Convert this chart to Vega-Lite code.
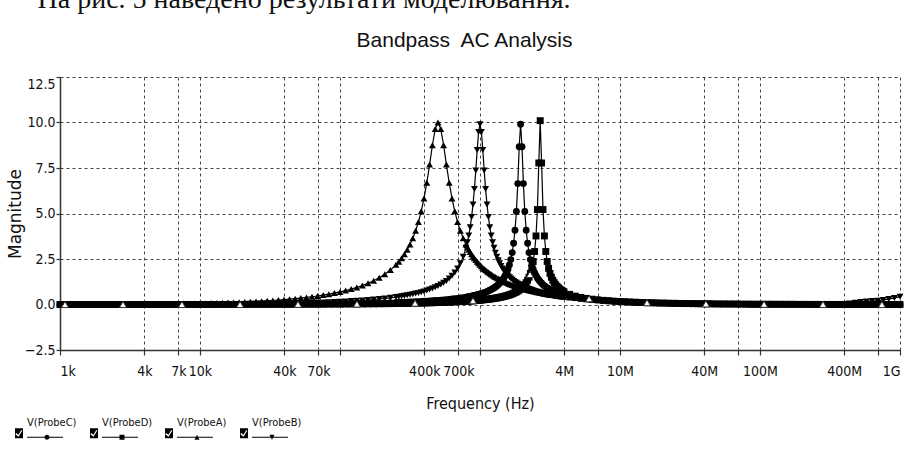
{
  "$schema": "https://vega.github.io/schema/vega-lite/v6.json",
  "background": "white",
  "autosize": {"type": "none"},
  "padding": {"left": 60, "top": 77, "right": 4, "bottom": 99},
  "width": 840,
  "height": 273,
  "datasets": {
    "curves": [
      {"f":1000,"A":0.0067,"B":0.0015,"C":0.0004,"D":0.0002},
      {"f":1096,"A":0.0073,"B":0.0017,"C":0.0005,"D":0.0002},
      {"f":1202,"A":0.0080,"B":0.0018,"C":0.0005,"D":0.0003},
      {"f":1318,"A":0.0088,"B":0.0020,"C":0.0006,"D":0.0003},
      {"f":1445,"A":0.0096,"B":0.0022,"C":0.0006,"D":0.0003},
      {"f":1585,"A":0.0105,"B":0.0024,"C":0.0007,"D":0.0003},
      {"f":1738,"A":0.0116,"B":0.0027,"C":0.0007,"D":0.0004},
      {"f":1905,"A":0.0127,"B":0.0029,"C":0.0008,"D":0.0004},
      {"f":2089,"A":0.0139,"B":0.0032,"C":0.0009,"D":0.0004},
      {"f":2291,"A":0.0152,"B":0.0035,"C":0.0010,"D":0.0005},
      {"f":2512,"A":0.0167,"B":0.0038,"C":0.0011,"D":0.0005},
      {"f":2754,"A":0.0183,"B":0.0042,"C":0.0012,"D":0.0006},
      {"f":3020,"A":0.0201,"B":0.0046,"C":0.0013,"D":0.0006},
      {"f":3311,"A":0.0220,"B":0.0050,"C":0.0014,"D":0.0007},
      {"f":3631,"A":0.0241,"B":0.0055,"C":0.0015,"D":0.0008},
      {"f":3981,"A":0.0265,"B":0.0061,"C":0.0017,"D":0.0008},
      {"f":4365,"A":0.0290,"B":0.0066,"C":0.0018,"D":0.0009},
      {"f":4786,"A":0.0318,"B":0.0073,"C":0.0020,"D":0.0010},
      {"f":5248,"A":0.0349,"B":0.0080,"C":0.0022,"D":0.0011},
      {"f":5754,"A":0.0383,"B":0.0087,"C":0.0024,"D":0.0012},
      {"f":6310,"A":0.0420,"B":0.0096,"C":0.0027,"D":0.0013},
      {"f":6918,"A":0.0460,"B":0.0105,"C":0.0029,"D":0.0014},
      {"f":7586,"A":0.0505,"B":0.0115,"C":0.0032,"D":0.0016},
      {"f":8318,"A":0.0553,"B":0.0126,"C":0.0035,"D":0.0017},
      {"f":9120,"A":0.0607,"B":0.0139,"C":0.0039,"D":0.0019},
      {"f":10000,"A":0.0665,"B":0.0152,"C":0.0042,"D":0.0021},
      {"f":10965,"A":0.0729,"B":0.0167,"C":0.0046,"D":0.0023},
      {"f":12023,"A":0.0800,"B":0.0183,"C":0.0051,"D":0.0025},
      {"f":13183,"A":0.0877,"B":0.0200,"C":0.0056,"D":0.0028},
      {"f":14454,"A":0.0961,"B":0.0220,"C":0.0061,"D":0.0030},
      {"f":15849,"A":0.1054,"B":0.0241,"C":0.0067,"D":0.0033},
      {"f":17378,"A":0.1156,"B":0.0264,"C":0.0074,"D":0.0036},
      {"f":19055,"A":0.1267,"B":0.0290,"C":0.0081,"D":0.0040},
      {"f":20893,"A":0.1390,"B":0.0318,"C":0.0088,"D":0.0044},
      {"f":22909,"A":0.1524,"B":0.0348,"C":0.0097,"D":0.0048},
      {"f":25119,"A":0.1671,"B":0.0382,"C":0.0106,"D":0.0052},
      {"f":27542,"A":0.1832,"B":0.0419,"C":0.0117,"D":0.0057},
      {"f":30200,"A":0.2009,"B":0.0459,"C":0.0128,"D":0.0063},
      {"f":33113,"A":0.2202,"B":0.0503,"C":0.0140,"D":0.0069},
      {"f":36308,"A":0.2415,"B":0.0552,"C":0.0154,"D":0.0076},
      {"f":39811,"A":0.2648,"B":0.0605,"C":0.0168,"D":0.0083},
      {"f":43652,"A":0.2903,"B":0.0663,"C":0.0185,"D":0.0091},
      {"f":47863,"A":0.3183,"B":0.0727,"C":0.0203,"D":0.0100},
      {"f":52481,"A":0.3527,"B":0.0797,"C":0.0222,"D":0.0109},
      {"f":57544,"A":0.3875,"B":0.0874,"C":0.0243,"D":0.0120},
      {"f":63096,"A":0.4261,"B":0.0959,"C":0.0267,"D":0.0132},
      {"f":69183,"A":0.4686,"B":0.1051,"C":0.0293,"D":0.0144},
      {"f":75858,"A":0.5157,"B":0.1153,"C":0.0321,"D":0.0158},
      {"f":83176,"A":0.5679,"B":0.1264,"C":0.0352,"D":0.0173},
      {"f":91201,"A":0.6262,"B":0.1387,"C":0.0386,"D":0.0190},
      {"f":100000,"A":0.6911,"B":0.1538,"C":0.0423,"D":0.0209},
      {"f":109650,"A":0.7639,"B":0.1690,"C":0.0465,"D":0.0229},
      {"f":120230,"A":0.8453,"B":0.1858,"C":0.0511,"D":0.0251},
      {"f":131830,"A":0.9372,"B":0.2043,"C":0.0561,"D":0.0275},
      {"f":144540,"A":1.043,"B":0.2248,"C":0.0615,"D":0.0301},
      {"f":158490,"A":1.163,"B":0.2476,"C":0.0675,"D":0.0331},
      {"f":173780,"A":1.303,"B":0.2729,"C":0.0741,"D":0.0362},
      {"f":190550,"A":1.465,"B":0.3011,"C":0.0814,"D":0.0397},
      {"f":208930,"A":1.658,"B":0.3327,"C":0.0894,"D":0.0436},
      {"f":229090,"A":1.891,"B":0.3682,"C":0.0983,"D":0.0481},
      {"f":251190,"A":2.178,"B":0.4079,"C":0.1081,"D":0.0528},
      {"f":263030,"A":2.347,"B":0.4301,"C":0.1134,"D":0.0554},
      {"f":275420,"A":2.538,"B":0.4538,"C":0.1189,"D":0.0580},
      {"f":288400,"A":2.756,"B":0.4790,"C":0.1248,"D":0.0608},
      {"f":302000,"A":3.007,"B":0.5055,"C":0.1309,"D":0.0638},
      {"f":316230,"A":3.298,"B":0.5344,"C":0.1374,"D":0.0668},
      {"f":331130,"A":3.639,"B":0.5655,"C":0.1443,"D":0.0701},
      {"f":346740,"A":4.047,"B":0.5994,"C":0.1515,"D":0.0735},
      {"f":363080,"A":4.531,"B":0.6356,"C":0.1591,"D":0.0771},
      {"f":380190,"A":5.117,"B":0.6752,"C":0.1672,"D":0.0809},
      {"f":398110,"A":5.830,"B":0.7185,"C":0.1758,"D":0.0848},
      {"f":416870,"A":6.689,"B":0.7663,"C":0.1848,"D":0.0890},
      {"f":436520,"A":7.689,"B":0.8189,"C":0.1944,"D":0.0935},
      {"f":457090,"A":8.749,"B":0.8763,"C":0.2046,"D":0.0981},
      {"f":478630,"A":9.639,"B":0.9411,"C":0.2155,"D":0.1030},
      {"f":501190,"A":10.0,"B":1.014,"C":0.2271,"D":0.1082},
      {"f":524810,"A":9.639,"B":1.097,"C":0.2394,"D":0.1137},
      {"f":549540,"A":8.749,"B":1.191,"C":0.2526,"D":0.1195},
      {"f":575440,"A":7.689,"B":1.298,"C":0.2667,"D":0.1257},
      {"f":602560,"A":6.689,"B":1.426,"C":0.2819,"D":0.1322},
      {"f":630960,"A":5.830,"B":1.576,"C":0.2982,"D":0.1392},
      {"f":660690,"A":5.117,"B":1.757,"C":0.3158,"D":0.1466},
      {"f":691830,"A":4.531,"B":1.982,"C":0.3349,"D":0.1544},
      {"f":724440,"A":4.047,"B":2.261,"C":0.3556,"D":0.1628},
      {"f":758580,"A":3.639,"B":2.624,"C":0.3782,"D":0.1718},
      {"f":794330,"A":3.298,"B":3.112,"C":0.4030,"D":0.1814},
      {"f":812830,"A":3.148,"B":3.423,"C":0.4162,"D":0.1865},
      {"f":831760,"A":3.007,"B":3.796,"C":0.4302,"D":0.1917},
      {"f":851140,"A":2.878,"B":4.249,"C":0.4449,"D":0.1972},
      {"f":870960,"A":2.756,"B":4.804,"C":0.4604,"D":0.2028},
      {"f":891250,"A":2.644,"B":5.492,"C":0.4766,"D":0.2087},
      {"f":912010,"A":2.538,"B":6.340,"C":0.4939,"D":0.2148},
      {"f":933250,"A":2.440,"B":7.364,"C":0.5122,"D":0.2212},
      {"f":954990,"A":2.347,"B":8.494,"C":0.5316,"D":0.2278},
      {"f":977240,"A":2.260,"B":9.484,"C":0.5522,"D":0.2347},
      {"f":1000000,"A":2.178,"B":9.9,"C":0.5732,"D":0.2419},
      {"f":1023300,"A":2.100,"B":9.484,"C":0.5967,"D":0.2494},
      {"f":1047100,"A":2.026,"B":8.494,"C":0.6215,"D":0.2572},
      {"f":1071500,"A":1.957,"B":7.364,"C":0.6483,"D":0.2654},
      {"f":1096500,"A":1.891,"B":6.340,"C":0.6767,"D":0.2741},
      {"f":1122000,"A":1.829,"B":5.492,"C":0.7076,"D":0.2831},
      {"f":1148200,"A":1.769,"B":4.804,"C":0.7416,"D":0.2926},
      {"f":1174900,"A":1.713,"B":4.249,"C":0.7783,"D":0.3026},
      {"f":1202300,"A":1.658,"B":3.796,"C":0.8182,"D":0.3131},
      {"f":1230300,"A":1.607,"B":3.423,"C":0.8616,"D":0.3241},
      {"f":1258900,"A":1.558,"B":3.112,"C":0.9099,"D":0.3359},
      {"f":1288200,"A":1.511,"B":2.849,"C":0.9621,"D":0.3484},
      {"f":1318300,"A":1.465,"B":2.624,"C":1.022,"D":0.3616},
      {"f":1349000,"A":1.422,"B":2.430,"C":1.089,"D":0.3756},
      {"f":1380400,"A":1.381,"B":2.261,"C":1.163,"D":0.3905},
      {"f":1412500,"A":1.341,"B":2.112,"C":1.248,"D":0.4066},
      {"f":1445400,"A":1.303,"B":1.982,"C":1.345,"D":0.4234},
      {"f":1479100,"A":1.266,"B":1.863,"C":1.458,"D":0.4418},
      {"f":1513600,"A":1.230,"B":1.757,"C":1.590,"D":0.4614},
      {"f":1548800,"A":1.196,"B":1.662,"C":1.748,"D":0.4825},
      {"f":1584900,"A":1.163,"B":1.576,"C":1.938,"D":0.5058},
      {"f":1621800,"A":1.132,"B":1.498,"C":2.172,"D":0.5301},
      {"f":1659600,"A":1.101,"B":1.426,"C":2.467,"D":0.5574},
      {"f":1698200,"A":1.071,"B":1.360,"C":2.851,"D":0.5872},
      {"f":1737800,"A":1.043,"B":1.298,"C":3.364,"D":0.6200},
      {"f":1778300,"A":1.015,"B":1.243,"C":4.076,"D":0.6567},
      {"f":1819700,"A":0.9885,"B":1.191,"C":5.112,"D":0.6970},
      {"f":1862100,"A":0.9627,"B":1.142,"C":6.643,"D":0.7432},
      {"f":1905500,"A":0.9372,"B":1.097,"C":8.665,"D":0.7940},
      {"f":1949800,"A":0.9136,"B":1.054,"C":9.9,"D":0.8523},
      {"f":1995300,"A":0.8901,"B":1.014,"C":8.665,"D":0.9190},
      {"f":2041700,"A":0.8674,"B":0.9766,"C":6.643,"D":0.9980},
      {"f":2089300,"A":0.8453,"B":0.9411,"C":5.112,"D":1.0895},
      {"f":2138000,"A":0.8240,"B":0.9080,"C":4.076,"D":1.199},
      {"f":2187800,"A":0.8033,"B":0.8763,"C":3.364,"D":1.332},
      {"f":2238700,"A":0.7832,"B":0.8468,"C":2.851,"D":1.498},
      {"f":2290900,"A":0.7639,"B":0.8189,"C":2.467,"D":1.708},
      {"f":2344200,"A":0.7447,"B":0.7917,"C":2.172,"D":1.985},
      {"f":2398800,"A":0.7263,"B":0.7663,"C":1.938,"D":2.364},
      {"f":2454700,"A":0.7084,"B":0.7419,"C":1.748,"D":2.912},
      {"f":2511900,"A":0.6911,"B":0.7185,"C":1.590,"D":3.767},
      {"f":2570400,"A":0.6741,"B":0.6965,"C":1.458,"D":5.217},
      {"f":2630300,"A":0.6577,"B":0.6752,"C":1.345,"D":7.776},
      {"f":2691500,"A":0.6417,"B":0.6552,"C":1.248,"D":10.1},
      {"f":2754200,"A":0.6262,"B":0.6356,"C":1.163,"D":7.776},
      {"f":2818400,"A":0.6110,"B":0.6171,"C":1.089,"D":5.217},
      {"f":2884000,"A":0.5962,"B":0.5994,"C":1.022,"D":3.767},
      {"f":2951200,"A":0.5819,"B":0.5820,"C":0.9621,"D":2.912},
      {"f":3020000,"A":0.5679,"B":0.5655,"C":0.9099,"D":2.364},
      {"f":3090300,"A":0.5543,"B":0.5497,"C":0.8616,"D":1.985},
      {"f":3162300,"A":0.5411,"B":0.5344,"C":0.8182,"D":1.708},
      {"f":3235900,"A":0.5283,"B":0.5204,"C":0.7783,"D":1.498},
      {"f":3311300,"A":0.5157,"B":0.5055,"C":0.7416,"D":1.332},
      {"f":3388400,"A":0.5035,"B":0.4923,"C":0.7076,"D":1.199},
      {"f":3467400,"A":0.4915,"B":0.4790,"C":0.6767,"D":1.0895},
      {"f":3548100,"A":0.4798,"B":0.4663,"C":0.6483,"D":0.9980},
      {"f":3630800,"A":0.4686,"B":0.4538,"C":0.6215,"D":0.9190},
      {"f":3715400,"A":0.4575,"B":0.4419,"C":0.5967,"D":0.8523},
      {"f":3801900,"A":0.4467,"B":0.4301,"C":0.5732,"D":0.7940},
      {"f":3890500,"A":0.4363,"B":0.4191,"C":0.5522,"D":0.7432},
      {"f":3981100,"A":0.4261,"B":0.4079,"C":0.5316,"D":0.6970},
      {"f":4365200,"A":0.3875,"B":0.3682,"C":0.4604,"D":0.5574},
      {"f":4786300,"A":0.3527,"B":0.3327,"C":0.4030,"D":0.4614},
      {"f":5248100,"A":0.3212,"B":0.3011,"C":0.3556,"D":0.3905},
      {"f":5754400,"A":0.2926,"B":0.2729,"C":0.3158,"D":0.3359},
      {"f":6309600,"A":0.2664,"B":0.2476,"C":0.2819,"D":0.2926},
      {"f":6918300,"A":0.2427,"B":0.2248,"C":0.2526,"D":0.2572},
      {"f":7585800,"A":0.2211,"B":0.2043,"C":0.2271,"D":0.2278},
      {"f":8317600,"A":0.2016,"B":0.1858,"C":0.2046,"D":0.2028},
      {"f":9120100,"A":0.1837,"B":0.1690,"C":0.1848,"D":0.1814},
      {"f":10000000,"A":0.1675,"B":0.1538,"C":0.1672,"D":0.1628},
      {"f":10965000,"A":0.1527,"B":0.1387,"C":0.1515,"D":0.1466},
      {"f":12023000,"A":0.1390,"B":0.1264,"C":0.1374,"D":0.1322},
      {"f":13183000,"A":0.1267,"B":0.1153,"C":0.1248,"D":0.1195},
      {"f":14454000,"A":0.1156,"B":0.1051,"C":0.1134,"D":0.1082},
      {"f":15849000,"A":0.1054,"B":0.0959,"C":0.1031,"D":0.0981},
      {"f":17378000,"A":0.0961,"B":0.0874,"C":0.0938,"D":0.0890},
      {"f":19055000,"A":0.0877,"B":0.0797,"C":0.0853,"D":0.0809},
      {"f":20893000,"A":0.0800,"B":0.0727,"C":0.0777,"D":0.0735},
      {"f":22909000,"A":0.0729,"B":0.0663,"C":0.0708,"D":0.0668},
      {"f":25119000,"A":0.0665,"B":0.0605,"C":0.0644,"D":0.0608},
      {"f":27542000,"A":0.0607,"B":0.0552,"C":0.0587,"D":0.0554},
      {"f":30200000,"A":0.0553,"B":0.0503,"C":0.0535,"D":0.0504},
      {"f":33113000,"A":0.0505,"B":0.0459,"C":0.0487,"D":0.0459},
      {"f":36308000,"A":0.0460,"B":0.0419,"C":0.0443,"D":0.0418},
      {"f":39811000,"A":0.0420,"B":0.0382,"C":0.0404,"D":0.0381},
      {"f":43652000,"A":0.0383,"B":0.0348,"C":0.0369,"D":0.0346},
      {"f":47863000,"A":0.0349,"B":0.0318,"C":0.0336,"D":0.0316},
      {"f":52481000,"A":0.0318,"B":0.0290,"C":0.0306,"D":0.0288},
      {"f":57544000,"A":0.0290,"B":0.0264,"C":0.0280,"D":0.0262},
      {"f":63096000,"A":0.0265,"B":0.0241,"C":0.0255,"D":0.0239},
      {"f":69183000,"A":0.0241,"B":0.0220,"C":0.0232,"D":0.0218},
      {"f":75858000,"A":0.0220,"B":0.0200,"C":0.0212,"D":0.0199},
      {"f":83176000,"A":0.0201,"B":0.0183,"C":0.0193,"D":0.0182},
      {"f":91201000,"A":0.0183,"B":0.0167,"C":0.0176,"D":0.0166},
      {"f":100000000,"A":0.0167,"B":0.0152,"C":0.0161,"D":0.0151},
      {"f":109650000,"A":0.0152,"B":0.0139,"C":0.0147,"D":0.0138},
      {"f":120230000,"A":0.0139,"B":0.0126,"C":0.0134,"D":0.0126},
      {"f":131830000,"A":0.0127,"B":0.0115,"C":0.0122,"D":0.0115},
      {"f":144540000,"A":0.0116,"B":0.0105,"C":0.0111,"D":0.0104},
      {"f":158490000,"A":0.0105,"B":0.0096,"C":0.0101,"D":0.0095},
      {"f":173780000,"A":0.0096,"B":0.0087,"C":0.0093,"D":0.0087},
      {"f":190550000,"A":0.0088,"B":0.0080,"C":0.0084,"D":0.0079},
      {"f":208930000,"A":0.0080,"B":0.0073,"C":0.0077,"D":0.0072},
      {"f":229090000,"A":0.0073,"B":0.0066,"C":0.0070,"D":0.0066},
      {"f":251190000,"A":0.0067,"B":0.0061,"C":0.0064,"D":0.0060},
      {"f":275420000,"A":0.0061,"B":0.0055,"C":0.0058,"D":0.0055},
      {"f":302000000,"A":0.0055,"B":0.0050,"C":0.0053,"D":0.0050},
      {"f":331130000,"A":0.0050,"B":0.0046,"C":0.0049,"D":0.0046},
      {"f":363080000,"A":0.0046,"B":0.0042,"C":0.0044,"D":0.0042},
      {"f":398110000,"A":0.0042,"B":0.0038,"C":0.0040,"D":0.0038},
      {"f":436520000,"A":0.0038,"B":0.06,"C":0.0037,"D":0.0035},
      {"f":478630000,"A":0.0035,"B":0.10,"C":0.0034,"D":0.0032},
      {"f":524810000,"A":0.0032,"B":0.14,"C":0.0031,"D":0.0029},
      {"f":575440000,"A":0.0029,"B":0.17,"C":0.0028,"D":0.0027},
      {"f":630960000,"A":0.0027,"B":0.19,"C":0.0025,"D":0.0024},
      {"f":691830000,"A":0.0024,"B":0.21,"C":0.0023,"D":0.0022},
      {"f":758580000,"A":0.0022,"B":0.25,"C":0.0021,"D":0.0020},
      {"f":831760000,"A":0.0020,"B":0.30,"C":0.0019,"D":0.0018},
      {"f":912010000,"A":0.0018,"B":0.36,"C":0.0018,"D":0.0017},
      {"f":1000000000,"A":0.0017,"B":0.43,"C":0.0016,"D":0.0015}
    ],
    "traceMarks": [
      {"f":1086,"v":0.0002},
      {"f":2818,"v":0.0005},
      {"f":7430,"v":0.0015},
      {"f":19320,"v":0.004},
      {"f":50120,"v":0.0105},
      {"f":132100,"v":0.0276},
      {"f":343600,"v":0.0735},
      {"f":891300,"v":0.209},
      {"f":2275000,"v":1.65},
      {"f":6012000,"v":0.315},
      {"f":15600000,"v":0.100},
      {"f":41110000,"v":0.0335},
      {"f":106900000,"v":0.0141},
      {"f":281800000,"v":0.0054},
      {"f":743000000,"v":0.002}
    ],
    "probes": [
      {"probe":"C"},{"probe":"D"},{"probe":"A"},{"probe":"B"}
    ]
  },
  "encoding": {
    "y": {
      "field": "v",
      "type": "quantitative",
      "title": "Magnitude",
      "scale": {"domain": [-2.5, 12.5], "nice": false, "zero": false},
      "axis": {
        "values": [-2.5, 0, 2.5, 5, 7.5, 10, 12.5],
        "format": ".1f",
        "tickSize": 4,
        "labelPadding": 1,
        "labelBaseline": {"condition": {"test": "datum.value == 12.5", "value": "top"}, "value": "middle"},
        "titleFont": "DejaVu Sans",
        "titleFontSize": 17,
        "titlePadding": 0
      }
    }
  },
  "layer": [
    {
      "data": {"name": "curves"},
      "transform": [{"fold": ["C", "D", "A", "B"], "as": ["probe", "v"]}],
      "mark": {"type": "line", "color": "black", "strokeWidth": 1.2},
      "encoding": {
        "x": {
          "field": "f",
          "type": "quantitative",
          "title": "Frequency (Hz)",
          "scale": {"type": "log", "domain": [1000, 1000000000], "nice": false},
          "axis": {
            "values": [1000,4000,7000,10000,40000,70000,100000,400000,700000,1000000,4000000,7000000,10000000,40000000,70000000,100000000,400000000,700000000,1000000000],
            "labelExpr": "['1k','4k','7k','10k','40k','70k','','400k','700k','','4M','','10M','40M','','100M','400M','','1G'][indexof([1000,4000,7000,10000,40000,70000,100000,400000,700000,1000000,4000000,7000000,10000000,40000000,70000000,100000000,400000000,700000000,1000000000], datum.value)]",
            "labelFlush": true,
            "labelOverlap": false,
            "labelBound": false,
            "tickSize": 5,
            "labelPadding": 9,
            "titleFont": "Liberation Sans Narrow, DejaVu Sans Condensed, sans-serif",
            "titleFontSize": 16,
            "titlePadding": 17
          }
        },
        "detail": {"field": "probe", "type": "nominal"}
      }
    },
    {
      "data": {"name": "curves"},
      "transform": [{"fold": ["C", "D", "A", "B"], "as": ["probe", "v"]}],
      "mark": {"type": "point", "filled": true, "color": "black", "size": 48, "opacity": 1, "strokeWidth": 0},
      "encoding": {
        "x": {"field": "f", "type": "quantitative", "axis": null},
        "shape": {
          "field": "probe",
          "type": "nominal",
          "scale": {"domain": ["C", "D", "A", "B"], "range": ["circle", "square", "triangle-up", "triangle-down"]},
          "legend": null
        }
      }
    },
    {
      "data": {"name": "traceMarks"},
      "mark": {"type": "point", "shape": "triangle-up", "filled": true, "fill": "white", "stroke": "#333", "strokeWidth": 1, "size": 50, "opacity": 1},
      "encoding": {
        "x": {"field": "f", "type": "quantitative", "axis": null}
      }
    },
    {
      "data": {"name": "probes"},
      "transform": [{"filter": "false"}],
      "mark": {"type": "point", "filled": true, "color": "black", "opacity": 1},
      "encoding": {
        "x": {
          "field": "f",
          "type": "quantitative",
          "title": "На рис. 5 наведено результати моделювання.",
          "axis": {
            "orient": "top",
            "labels": false,
            "ticks": false,
            "domain": false,
            "grid": false,
            "titleFont": "Liberation Serif",
            "titleFontSize": 28,
            "titleFontWeight": "normal",
            "titleColor": "#111",
            "titleX": -23,
            "titleY": -70,
            "titleAlign": "left",
            "titleBaseline": "alphabetic",
            "titleAngle": 0
          }
        },
        "shape": {
          "field": "probe",
          "type": "nominal",
          "scale": {
            "domain": ["C", "D", "A", "B"],
            "range": [
              "M-1,0.208H-0.667V0.625H-1Z M-0.983,0.459L-0.854,0.559L-0.7,0.317L-0.738,0.284L-0.854,0.484L-0.958,0.409Z M-0.5,0.5625H1V0.604H-0.5Z M0.437,0.583A0.104,0.104 0 1 1 0.229,0.583A0.104,0.104 0 1 1 0.437,0.583Z",
              "M-1,0.208H-0.667V0.625H-1Z M-0.983,0.459L-0.854,0.559L-0.7,0.317L-0.738,0.284L-0.854,0.484L-0.958,0.409Z M-0.5,0.5625H1V0.604H-0.5Z M0.229,0.479H0.437V0.687H0.229Z",
              "M-1,0.208H-0.667V0.625H-1Z M-0.983,0.459L-0.854,0.559L-0.7,0.317L-0.738,0.284L-0.854,0.484L-0.958,0.409Z M-0.5,0.5625H1V0.604H-0.5Z M0.333,0.479L0.437,0.687L0.229,0.687Z",
              "M-1,0.208H-0.667V0.625H-1Z M-0.983,0.459L-0.854,0.559L-0.7,0.317L-0.738,0.284L-0.854,0.484L-0.958,0.409Z M-0.5,0.5625H1V0.604H-0.5Z M0.229,0.479L0.437,0.479L0.333,0.687Z"
            ]
          },
          "legend": {
            "orient": "none",
            "legendX": -45,
            "legendY": 322,
            "direction": "horizontal",
            "title": null,
            "padding": 0,
            "symbolSize": 2304,
            "symbolFillColor": "black",
            "symbolStrokeWidth": 0,
            "symbolOpacity": 1,
            "labelOffset": -36,
            "labelFont": "Liberation Sans Narrow, DejaVu Sans Condensed, sans-serif",
            "labelFontSize": 11,
            "labelColor": "#111",
            "labelExpr": "'V(Probe' + datum.label + ')'",
            "columnPadding": 12,
            "gridAlign": "all"
          }
        }
      }
    },
    {
      "data": {"name": "probes"},
      "transform": [{"filter": "false"}],
      "mark": {"type": "point", "filled": true, "color": "black", "opacity": 1},
      "encoding": {
        "x": {
          "field": "f",
          "type": "quantitative",
          "title": "Bandpass\u00a0 AC Analysis",
          "axis": {
            "orient": "top",
            "labels": false,
            "ticks": false,
            "domain": false,
            "grid": false,
            "titleFont": "Liberation Sans",
            "titleFontSize": 21,
            "titleFontWeight": "normal",
            "titleColor": "#111",
            "titleX": 404,
            "titleY": -31,
            "titleAlign": "center",
            "titleBaseline": "alphabetic",
            "titleAngle": 0
          }
        }
      }
    }
  ],
  "resolve": {
    "scale": {"shape": "independent"},
    "legend": {"shape": "independent"},
    "axis": {"x": "independent"}
  },
  "config": {
    "view": {"stroke": null},
    "axis": {
      "grid": true,
      "gridColor": "#444",
      "gridDash": [3, 3],
      "gridWidth": 1,
      "domainColor": "#333",
      "domainWidth": 1.5,
      "tickColor": "#333",
      "tickWidth": 1.2,
      "labelFont": "Liberation Sans Narrow, DejaVu Sans Condensed, sans-serif",
      "labelFontSize": 14,
      "labelColor": "#111",
      "titleColor": "#111",
      "titleFontWeight": "normal"
    }
  }
}
